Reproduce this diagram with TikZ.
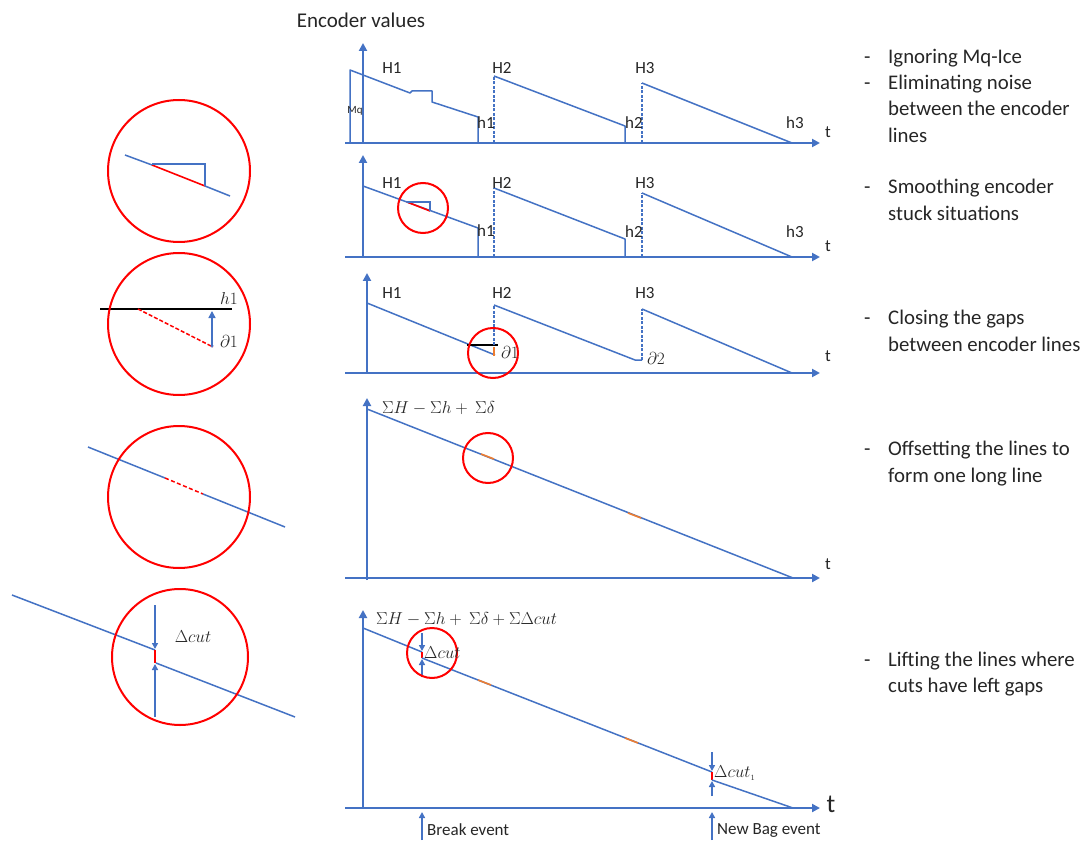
\documentclass[tikz,border=0pt]{standalone}
\usepackage{fontspec}
\setmainfont{Carlito}
\usetikzlibrary{arrows.meta}
\definecolor{ob}{HTML}{4472C4}
\definecolor{rd}{HTML}{FF0000}
\definecolor{org}{HTML}{ED7D31}
\definecolor{tx}{HTML}{262626}
\begin{document}
\begin{tikzpicture}[x=1pt,y=-1pt,
  axis/.style={ob, line width=2pt, -{Triangle[width=8pt,length=8pt]}},
  curve/.style={ob, line width=1.5pt, line join=round},
  rise/.style={ob, line width=1.3pt, dash pattern=on 3pt off 1.5pt},
  zoomc/.style={rd, line width=2pt},
  redseg/.style={rd, line width=1.6pt},
  orseg/.style={org, line width=1.6pt},
  tiparrow/.style={ob, line width=1.5pt, -{Triangle[width=6pt,length=6pt]}},
  lbl/.style={font=\fontsize{17}{19}\selectfont, text=tx, inner sep=0pt},
  mlbl/.style={font=\fontsize{16}{18}\selectfont, text=tx, inner sep=0pt},
  evt/.style={font=\fontsize{17}{19}\selectfont, text=tx, inner sep=0pt, anchor=west},
  desc/.style={font=\fontsize{20.8}{26}\selectfont, text=tx, anchor=base west, inner sep=0pt},
]
\useasboundingbox (0,0) rectangle (1089,842);
\fill[white] (0,0) rectangle (1089,842);

% ---------- title ----------
\node[font=\fontsize{21}{24}\selectfont, text=tx, inner sep=0pt] (title) at (361,20) {Encoder values};

% ---------- graph 1 ----------
\draw[axis] (345,143) -- (820,143);
\draw[axis] (363,143) -- (363,43);
\draw[curve] (350,143) -- (350,70) -- (410,93) -- (412,91) -- (432,91) -- (432,102) -- (478,117) -- (478,143);
\draw[rise] (494,143) -- (494,76);
\draw[curve] (494,76) -- (625,126) -- (625,143);
\draw[rise] (642,143) -- (642,83);
\draw[curve] (642,83) -- (792,143);
\node[lbl] (g1H1) at (392,68) {H1};
\node[lbl] (g1H2) at (502,68) {H2};
\node[lbl] (g1H3) at (645,68) {H3};
\node[lbl] (g1h1) at (486,123) {h1};
\node[lbl] (g1h2) at (634,123) {h2};
\node[lbl] (g1h3) at (795,123) {h3};
\node[font=\fontsize{11}{12}\selectfont, text=tx, inner sep=0pt] (mq) at (355,111) {Mq};
\node[lbl] (g1t) at (828,132) {t};

% ---------- graph 2 ----------
\draw[axis] (345,257) -- (820,257);
\draw[axis] (363,257) -- (363,155);
\draw[curve] (363,186) -- (478,228) -- (478,257);
\draw[rise] (494,257) -- (494,188);
\draw[curve] (494,188) -- (625,239) -- (625,257);
\draw[rise] (642,257) -- (642,193);
\draw[curve] (642,193) -- (792,257);
\draw[redseg] (407,202) -- (430,211);
\draw[ob, line width=1.5pt] (407,202) -- (430,202) -- (430,211);
\draw[zoomc] (423,208) circle[radius=25];
\node[lbl] (g2H1) at (392,183) {H1};
\node[lbl] (g2H2) at (502,183) {H2};
\node[lbl] (g2H3) at (645,183) {H3};
\node[lbl] (g2h1) at (486,231) {h1};
\node[lbl] (g2h2) at (634,232) {h2};
\node[lbl] (g2h3) at (795,232) {h3};
\node[lbl] (g2t) at (828,246) {t};

% ---------- graph 3 ----------
\draw[axis] (345,373) -- (820,373);
\draw[axis] (367,373) -- (367,273);
\draw[curve] (367,303) -- (495,355);
\draw[black, line width=1.6pt] (467,345) -- (498,345);
\draw[rise] (494,345) -- (494,305);
\draw[orseg] (494,347) -- (494,356);
\draw[curve] (494,305) -- (635,360) -- (642,360);
\draw[rise] (642,360) -- (642,309);
\draw[curve] (642,309) -- (792,373);
\draw[zoomc] (493,353) circle[radius=25];
\node[lbl] (g3H1) at (392,293) {H1};
\node[lbl] (g3H2) at (502,293) {H2};
\node[lbl] (g3H3) at (645,293) {H3};
\node[mlbl] (g3d1) at (510,352) {$\partial 1$};
\node[mlbl] (g3d2) at (656,358) {$\partial 2$};
\node[lbl] (g3t) at (828,356) {t};

% ---------- graph 4 ----------
\draw[axis] (345,578) -- (820,578);
\draw[axis] (367,580) -- (367,398);
\draw[curve] (367,409) -- (793,578);
\draw[orseg] (481,454) -- (494,459);
\draw[orseg] (628,513) -- (641,518);
\draw[zoomc] (488,458) circle[radius=25];
\node[mlbl, anchor=west] (g4lab) at (382,408) {$\Sigma H - \Sigma h +\ \Sigma\delta$};
\node[lbl] (g4t) at (828,564) {t};

% ---------- graph 5 ----------
\draw[axis] (345,808) -- (820,808);
\draw[axis] (363,808) -- (363,610);
\draw[curve] (363,628) -- (422,652);
\draw[redseg] (422,652) -- (422,658);
\draw[curve] (422,658) -- (712,772);
\draw[redseg] (712,772) -- (712,780);
\draw[curve] (712,780) -- (793,808);
\draw[orseg] (478,680) -- (491,685);
\draw[orseg] (625,738) -- (638,743);
\draw[tiparrow] (422,633) -- (422,651);
\draw[tiparrow] (422,677) -- (422,659);
\draw[tiparrow] (712,752) -- (712,771);
\draw[tiparrow] (712,796) -- (712,781);
\draw[zoomc] (432,653) circle[radius=25];
\node[mlbl, anchor=west] (g5lab) at (376,619) {$\Sigma H - \Sigma h +\ \Sigma\delta + \Sigma\Delta cut$};
\node[mlbl, anchor=west] (g5dc) at (424,653) {$\Delta cut$};
\node[mlbl, anchor=west] (g5dc1) at (714,773) {$\Delta cut_{\scriptscriptstyle 1}$};
\node[font=\fontsize{26}{28}\selectfont, text=tx, inner sep=0pt] (g5t) at (831,804) {t};
\coordinate (brk0) at (422,840);
\coordinate (brk1) at (422,812);
\coordinate (nb0) at (712,840);
\coordinate (nb1) at (712,812);
\draw[tiparrow] (brk0) -- (brk1);
\draw[tiparrow] (nb0) -- (nb1);
\node[evt] (brk) at (427,830) {Break event};
\node[evt] (nb) at (717,830) {New Bag event};

% ---------- left zoom circles ----------
% circle 1
\draw[ob, line width=1.5pt] (125,155) -- (152,165);
\draw[redseg] (152,165) -- (205,186);
\draw[ob, line width=1.5pt] (205,186) -- (230,196);
\draw[ob, line width=1.5pt] (152,164) -- (205,164) -- (205,186);
\draw[zoomc] (179,171) circle[radius=71];
% circle 2
\draw[black, line width=1.6pt] (100,309) -- (232,309);
\draw[rd, line width=1.5pt, dash pattern=on 4pt off 2pt] (138,309) -- (213,347);
\draw[ob, line width=1.5pt, {Triangle[width=3pt,length=3pt]}-{Triangle[width=7pt,length=7pt]}] (212,348) -- (212,311);
\draw[zoomc] (179,324) circle[radius=71];
\node[mlbl] (c2h1) at (229,298) {$h1$};
\node[mlbl] (c2d1) at (229,341) {$\partial 1$};
% circle 3
\draw[ob, line width=1.5pt] (88,447) -- (165,478);
\draw[rd, line width=1.5pt, dash pattern=on 4pt off 2.5pt] (165,478) -- (203,494);
\draw[ob, line width=1.5pt] (203,494) -- (285,527);
\draw[zoomc] (179,497) circle[radius=71];
% circle 4
\draw[ob, line width=1.5pt] (12,595) -- (155,650);
\draw[redseg] (155,650) -- (155,663);
\draw[ob, line width=1.5pt] (156,663) -- (295,717);
\draw[tiparrow] (155,605) -- (155,649);
\draw[tiparrow] (155,717) -- (155,664);
\draw[zoomc] (180,657) circle[radius=68];
\node[mlbl] (c4dc) at (193,637) {$\Delta cut$};

% ---------- descriptions ----------
\foreach \yy in {64,90,194,324,455,666} { \node[desc] at (864,\yy) {-}; }
\node[desc] (d1a) at (888,64) {Ignoring Mq-Ice};
\node[desc] (d1b) at (888,90) {Eliminating noise};
\node[desc] (d1c) at (888,116) {between the encoder};
\node[desc] (d1d) at (888,143) {lines};
\node[desc] (d2a) at (888,194) {Smoothing encoder};
\node[desc] (d2b) at (888,221) {stuck situations};
\node[desc] (d3a) at (888,324) {Closing the gaps};
\node[desc] (d3b) at (888,351) {between encoder lines};
\node[desc] (d4a) at (888,455) {Offsetting the lines to};
\node[desc] (d4b) at (888,482) {form one long line};
\node[desc] (d5a) at (888,666) {Lifting the lines where};
\node[desc] (d5b) at (888,692) {cuts have left gaps};
\end{tikzpicture}
\end{document}
